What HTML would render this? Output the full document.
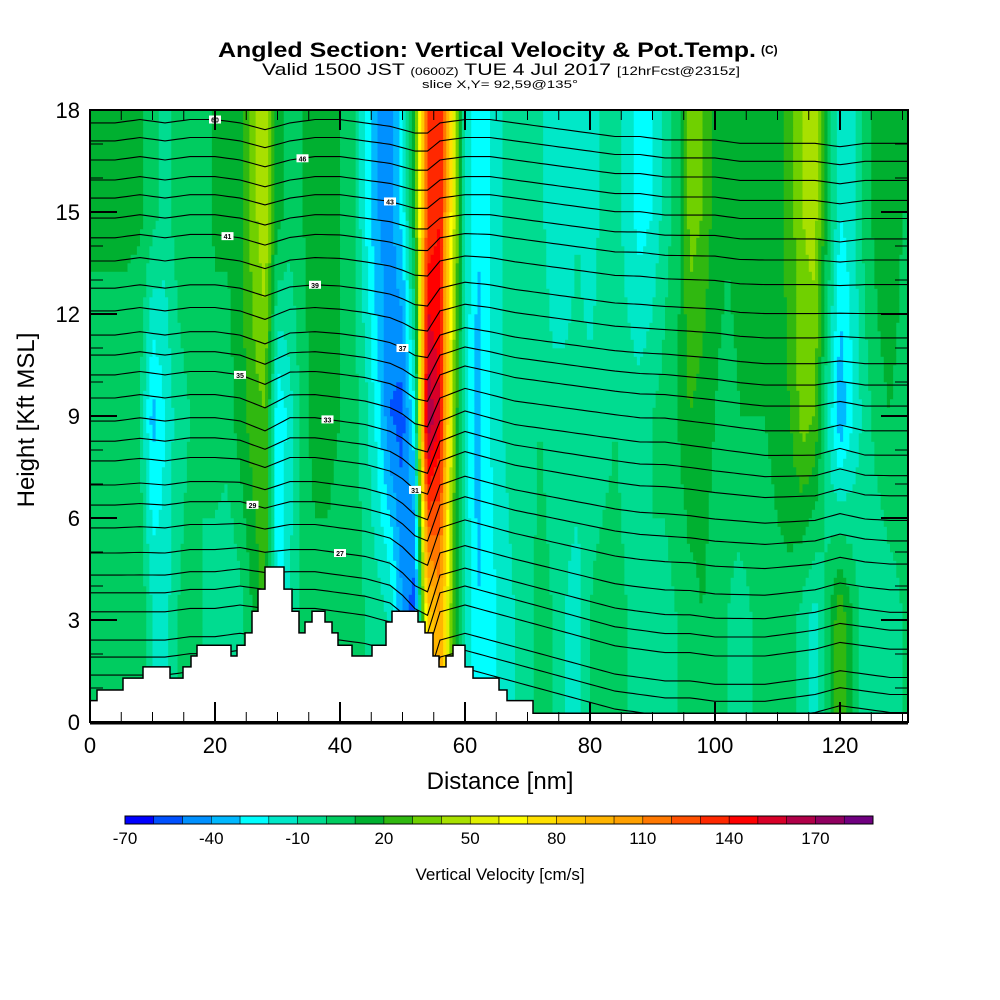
<!DOCTYPE html>
<html><head><meta charset="utf-8">
<style>
html,body{margin:0;padding:0;background:#fff;}
svg{display:block;font-family:"Liberation Sans",sans-serif;}
</style></head>
<body>
<svg id="chart" width="1000" height="1000" viewBox="0 0 1000 1000" xmlns="http://www.w3.org/2000/svg">
<g>
<text x="218" y="57" font-size="21" font-weight="bold" textLength="538" lengthAdjust="spacingAndGlyphs">Angled Section: Vertical Velocity &amp; Pot.Temp.</text>
<text x="761" y="54" font-size="12" font-weight="bold">(C)</text>
<text x="262" y="75" font-size="17" textLength="478" lengthAdjust="spacingAndGlyphs">Valid 1500 JST <tspan font-size="11">(0600Z)</tspan> TUE 4 Jul 2017 <tspan font-size="12">[12hrFcst@2315z]</tspan></text>
<text x="422" y="88" font-size="11" textLength="156" lengthAdjust="spacingAndGlyphs">slice X,Y= 92,59@135°</text>
</g>
<defs><clipPath id="plotclip"><rect x="90" y="110" width="818" height="612"/></clipPath></defs>
<g id="field" clip-path="url(#plotclip)"></g>
<g id="isen" clip-path="url(#plotclip)"></g>
<g id="terrain" clip-path="url(#plotclip)"></g>
<g id="axes"></g>
<g id="cbar"></g>
<text x="500" y="880" font-size="17" text-anchor="middle">Vertical Velocity [cm/s]</text>
<text x="500" y="789" font-size="24" text-anchor="middle">Distance [nm]</text>
<text x="0" y="0" font-size="24" text-anchor="middle" transform="translate(34,420) rotate(-90)">Height [Kft MSL]</text>
</svg>
<script>
// ---- data ----
const colNm = [0,2,4,6,8,10,12,14,16,18,20,22,24,26,28,30,32,34,36,38,40,42,44,46,48,50,52,54,56,58,60,62,64,66,68,70,72,74,76,78,80,82,84,86,88,90,92,94,96,98,100,102,104,106,108,110,112,114,116,118,120,122,124,126,128,130];
const wHigh = [12,12,12,12,12,5,-5,5,8,5,12,12,15,35,50,15,5,10,15,20,10,5,-20,-40,-45,-25,20,130,140,60,-10,-30,-20,-10,-5,-5,-5,-20,-20,-10,-20,-5,-5,-15,-25,-20,-5,5,35,30,15,12,15,12,10,15,25,40,45,10,-20,-15,5,15,20,10];
const wMid = [5,5,5,5,0,-35,-20,-5,0,0,5,5,15,25,30,-30,-15,5,15,15,10,5,-5,-25,-50,-55,-20,170,150,40,-15,-35,-20,-10,-5,-5,0,-5,-5,-5,-5,-5,0,-5,-5,0,5,10,20,15,10,5,10,10,10,15,20,35,30,-10,-40,-20,-5,5,10,5];
const wLow = [5,5,5,5,10,-10,-15,0,5,0,-5,-10,-5,10,25,-25,-10,5,5,5,0,5,0,-5,-10,-40,-60,80,100,30,-10,-30,-25,-15,-10,-5,5,0,-10,-15,0,5,5,0,-5,0,-5,0,5,10,5,0,-5,0,0,5,5,-5,-15,5,30,10,-10,-10,-5,0];
const levels = [-70,-60,-50,-40,-30,-20,-10,0,10,20,30,40,50,60,70,80,90,100,110,120,130,140,150,160,170,180,190];
const cbLabels = [-70,-40,-10,20,50,80,110,140,170];
const binColors = ["#0000ff","#0050ff","#0090ff","#00b8ff","#00ffff","#00e8c8","#00dc90","#00cc60","#00b030","#30b810","#70d000","#a8e000","#e0f000","#ffff00","#ffe000","#ffc800","#ffb400","#ffa000","#ff7800","#ff5000","#ff2800","#ff0000","#d80028","#b00048","#900060","#700080"];
const thetaBase = [17.62,17.09,16.53,15.94,15.41,14.82,14.24,13.56,12.76,12.09,11.38,10.79,10.21,9.53,8.85,8.26,7.68,6.97,6.38,5.71,4.97,4.32,3.8,3.24,2.41,1.91,1.38];
const thetaLabels = ["60","48","46","44","43","42","41","40","39","38","37","36","35","34","33","32","31","30","29","28","27","26","25","24","23","22","21"];
const dispNm = [0,4,8,12,16,20,24,28,32,36,40,44,48,50,52,54,56,60,64,68,72,76,80,84,88,92,96,100,104,108,112,116,120,124,128,132];
const dispHigh = [0,0,0.1,0,0.1,0.1,0,-0.2,0,0.1,0.1,0,-0.1,-0.2,-0.3,-0.3,0,0.1,0.1,0,-0.1,-0.2,-0.3,-0.4,-0.4,-0.5,-0.5,-0.5,-0.6,-0.6,-0.6,-0.6,-0.7,-0.6,-0.6,-0.6];
const dispMid = [0,0,0.1,0,0.1,0.1,0,-0.3,0.1,0.1,0,-0.1,-0.3,-0.5,-0.8,-0.9,0,0.3,0.1,-0.1,-0.2,-0.3,-0.4,-0.5,-0.6,-0.6,-0.7,-0.8,-0.9,-1.0,-1.0,-1.0,-0.8,-1.0,-1.0,-1.0];
const dispLow = [0,0,0,0,0.1,0.1,0.2,0.1,0.1,0.1,0,-0.1,-0.3,-0.6,-1.0,-1.2,0,0.2,0,-0.2,-0.4,-0.6,-0.8,-1.0,-1.1,-1.2,-1.2,-1.3,-1.3,-1.3,-1.2,-1.1,-0.9,-1.0,-1.1,-1.1];
const terrNm = [0,1.12,5.28,8.48,12.8,14.88,16.16,17.12,22.56,23.52,24.8,25.92,26.88,28.0,31.04,32.32,33.44,34.4,35.52,37.6,38.72,39.68,41.92,45.12,47.36,48.32,52.48,53.6,54.88,55.84,56.96,58.08,60.0,61.28,65.44,66.72,70.88];
const terrH = [0.63,0.94,1.29,1.62,1.29,1.62,1.94,2.26,1.94,2.26,2.62,3.26,3.91,4.56,3.91,3.26,2.62,2.94,3.26,2.94,2.62,2.26,1.94,2.26,2.94,3.26,2.94,2.62,1.94,1.62,1.94,2.26,1.62,1.29,0.94,0.63,0.26];
const xTicks = [0,20,40,60,80,100,120];
const yTicks = [0,3,6,9,12,15,18];
// ---- scales ----
const X = nm => 90 + nm*6.25;
const Y = k => 722 - k*34;
const NS = "http://www.w3.org/2000/svg";
function mk(tag, attrs, parent){const e=document.createElementNS(NS,tag);for(const k in attrs)e.setAttribute(k,attrs[k]);parent.appendChild(e);return e;}
function interp(xs, ys, x){
  if(x<=xs[0])return ys[0];
  for(let i=1;i<xs.length;i++){if(x<=xs[i]){const t=(x-xs[i-1])/(xs[i]-xs[i-1]);return ys[i-1]+t*(ys[i]-ys[i-1]);}}
  return ys[ys.length-1];
}
function wAt(nm,h){
  const lo=interp(colNm,wLow,nm), mi=interp(colNm,wMid,nm), hi=interp(colNm,wHigh,nm);
  if(h<=3)return lo; if(h>=15)return hi;
  if(h<=9)return lo+(mi-lo)*(h-3)/6;
  return mi+(hi-mi)*(h-9)/6;
}
function binOf(v){let b=Math.floor((v-levels[0])/10);return Math.max(0,Math.min(binColors.length-1,b));}
// ---- field ----
const field=document.getElementById('field');
const dn=0.5, dh=0.25;
for(let h=0;h<18;h+=dh){
  let runStart=0, runBin=-1;
  for(let nm=0;nm<=131.5;nm+=dn){
    const b=binOf(wAt(nm+dn/2,h+dh/2));
    if(b!==runBin){
      if(runBin>=0){
        const r=mk('rect',{x:X(runStart),y:Y(h+dh)-0.3,width:X(nm)-X(runStart)+0.4,height:dh*34+0.6,fill:binColors[runBin]},field);
        
        
      }
      runStart=nm; runBin=b;
    }
  }
  const r=mk('rect',{x:X(runStart),y:Y(h+dh)-0.3,width:X(132)-X(runStart),height:dh*34+0.6,fill:binColors[runBin]},field);
  
  
}
// ---- isentropes ----
const isen=document.getElementById('isen');
thetaBase.forEach((b,i)=>{
  let d='';
  for(let nm=0;nm<=132;nm+=1){
    const lo=interp(dispNm,dispLow,nm), mi=interp(dispNm,dispMid,nm), hi=interp(dispNm,dispHigh,nm);
    let disp; if(b<=4)disp=lo; else if(b>=15)disp=hi; else if(b<=9)disp=lo+(mi-lo)*(b-4)/5; else disp=mi+(hi-mi)*(b-9)/6;
    d+=(nm===0?'M':'L')+X(nm).toFixed(1)+','+Y(b+disp).toFixed(1);
  }
  const p=mk('path',{d:d,fill:'none',stroke:'#000','stroke-width':1.1},isen);
  
  
  if(i%2===0 && b>4){
    const lx=20+((i*7)%40);
    const lo=interp(dispNm,dispLow,lx), mi=interp(dispNm,dispMid,lx), hi=interp(dispNm,dispHigh,lx);
    const disp=b>=15?hi:(b<=9?lo+(mi-lo)*(b-4)/5:mi+(hi-mi)*(b-9)/6);
    const g=mk('g',{},isen);
    
    
    mk('rect',{x:X(lx)-6,y:Y(b+disp)-4,width:12,height:8,fill:'#fff'},g);
    const t=mk('text',{x:X(lx),y:Y(b+disp)+3,'font-size':7,'text-anchor':'middle','font-weight':'bold'},g);
    t.textContent=thetaLabels[i];
  }
});
// ---- terrain ----
const terr=document.getElementById('terrain');
let td='M'+X(0)+','+Y(0);
terrNm.forEach((n,i)=>{
  const x0=X(n), x1=i+1<terrNm.length?X(terrNm[i+1]):X(132);
  td+='L'+x0.toFixed(1)+','+Y(terrH[i]).toFixed(1)+'L'+x1.toFixed(1)+','+Y(terrH[i]).toFixed(1);
});
td+='L'+X(132)+','+Y(0)+'Z';
const tp=mk('path',{d:td,fill:'#fff',stroke:'#000','stroke-width':1.5},terr);


// ---- axes ----
const ax=document.getElementById('axes');
mk('rect',{x:90,y:110,width:818,height:612,fill:'none',stroke:'#000','stroke-width':2},ax);
mk('line',{x1:90,y1:723,x2:908,y2:723,stroke:'#000','stroke-width':3},ax);
for(let n=0;n<=130;n+=5){
  const major=n%20===0, L=major?20:10;
  mk('line',{x1:X(n),y1:722,x2:X(n),y2:722-L,stroke:'#000','stroke-width':major?2:1},ax);
  mk('line',{x1:X(n),y1:110,x2:X(n),y2:110+L,stroke:'#000','stroke-width':major?2:1},ax);
}
for(let k=0;k<=18;k++){
  const major=k%3===0, L=major?27:13;
  mk('line',{x1:90,y1:Y(k),x2:90+L,y2:Y(k),stroke:'#000','stroke-width':major?2:1},ax);
  mk('line',{x1:908,y1:Y(k),x2:908-L,y2:Y(k),stroke:'#000','stroke-width':major?2:1},ax);
}
xTicks.forEach(n=>{
  const t=mk('text',{x:X(n),y:753,'font-size':22,'text-anchor':'middle'},ax);
  
  
  t.textContent=n;
});
yTicks.forEach(k=>{
  const t=mk('text',{x:80,y:Y(k)+8,'font-size':22,'text-anchor':'end'},ax);
  
  
  t.textContent=k;
});
// ---- colorbar ----
const cb=document.getElementById('cbar');
const cbX=v=>125+(v-levels[0])*(748/260);
binColors.forEach((c,i)=>{
  const r=mk('rect',{x:cbX(levels[i]),y:816,width:cbX(levels[i+1])-cbX(levels[i]),height:8,fill:c,stroke:'#000','stroke-width':0.5},cb);
  
  
});
mk('rect',{x:125,y:816,width:748,height:8,fill:'none',stroke:'#000','stroke-width':1},cb);
cbLabels.forEach(v=>{
  const t=mk('text',{x:cbX(v),y:844,'font-size':17,'text-anchor':'middle'},cb);
  
  
  t.textContent=v;
});
</script>
</body></html>
